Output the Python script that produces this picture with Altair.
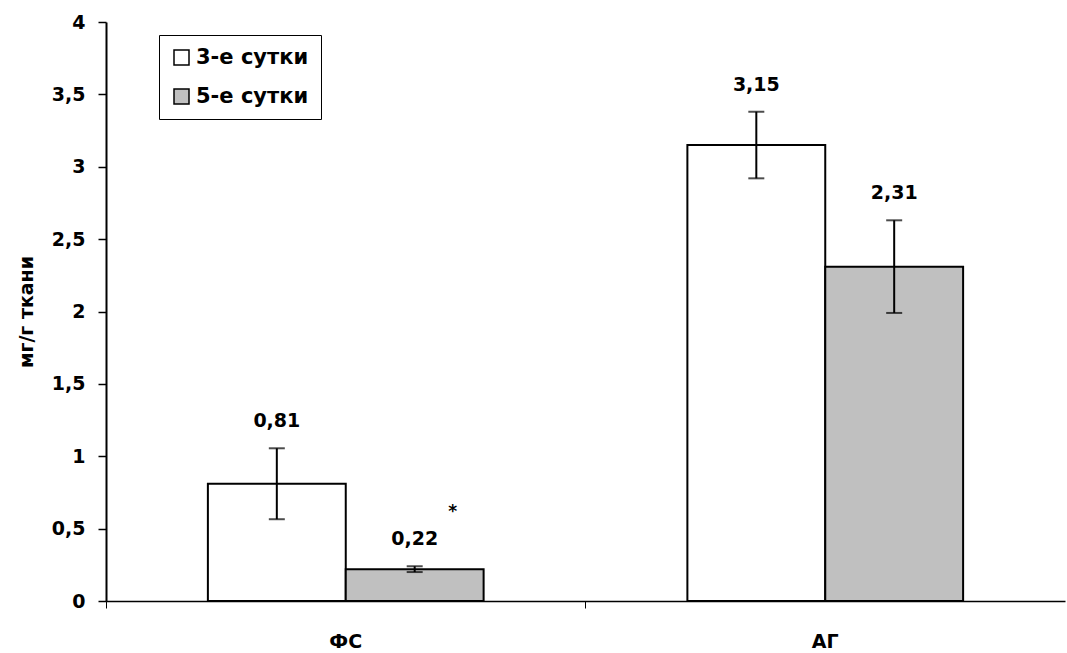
import altair as alt
import pandas as pd

groups = ["ФС", "ФС", "АГ", "АГ"]
series = ["3-е сутки", "5-е сутки", "3-е сутки", "5-е сутки"]
values = [0.81, 0.22, 3.15, 2.31]
errors = [0.245, 0.02, 0.23, 0.32]
marks = ["", "*", "", ""]
group_order = ["ФС", "АГ"]
series_order = ["3-е сутки", "5-е сутки"]
series_colors = ["#ffffff", "#c0c0c0"]
y_ticks = [0, 0.5, 1, 1.5, 2, 2.5, 3, 3.5, 4]

df = pd.DataFrame({
    "group": groups,
    "series": series,
    "value": values,
    "err": errors,
    "mark": marks,
})
df["lo"] = df["value"] - df["err"]
df["hi"] = df["value"] + df["err"]
df["label"] = df["value"].map(lambda v: f"{v:.2f}".replace(".", ","))

FONT = "DejaVu Sans"

x_enc = alt.X(
    "group:N",
    sort=group_order,
    scale=alt.Scale(paddingInner=0, paddingOuter=0),
    axis=alt.Axis(
        title=None, bandPosition=0, ticks=True, tickSize=7,
        tickColor="black", tickWidth=1, domainColor="black", domainWidth=1.5,
        labelAngle=0, labelFontSize=19, labelFont=FONT, labelFontWeight="bold",
        labelColor="black", labelPadding=24, grid=False,
    ),
)
xoff = alt.XOffset("series:N", sort=series_order,
                   scale=alt.Scale(paddingInner=0, paddingOuter=0.739))

y_scale = alt.Scale(domain=[0, 4], nice=False)

base = alt.Chart(df)

bars = base.mark_bar(stroke="black", strokeWidth=2).encode(
    x=x_enc,
    xOffset=xoff,
    y=alt.Y(
        "value:Q", scale=y_scale,
        axis=alt.Axis(
            title="мг/г ткани", values=y_ticks,
            labelExpr="replace(toString(datum.value), '.', ',')",
            grid=False, tickSize=8, tickColor="black", tickWidth=1.5,
            domainColor="black", domainWidth=2, labelFontSize=19,
            labelFont=FONT, labelFontWeight="bold", labelColor="black",
            labelPadding=13, titleFontSize=19, titleFont=FONT,
            titleFontWeight="bold", titleColor="black", titlePadding=15,
        ),
    ),
    fill=alt.Fill(
        "series:N",
        scale=alt.Scale(domain=series_order, range=series_colors),
        legend=alt.Legend(
            title=None, orient="none", legendX=53, legendY=13,
            symbolType="square", symbolSize=225, symbolStrokeColor="black",
            symbolStrokeWidth=1.5, labelFontSize=21, labelFont=FONT,
            labelFontWeight="bold", labelColor="black", padding=12,
            rowPadding=17, strokeColor="black", fillColor="white",
            labelOffset=4,
        ),
    ),
)

rules = base.mark_rule(color="black", strokeWidth=2).encode(
    x=alt.X("group:N", sort=group_order), xOffset=xoff,
    y=alt.Y("lo:Q", scale=y_scale), y2="hi:Q",
)
caps_lo = base.mark_tick(color="black", thickness=2, size=16, orient="horizontal").encode(
    x=alt.X("group:N", sort=group_order), xOffset=xoff,
    y=alt.Y("lo:Q", scale=y_scale),
)
caps_hi = base.mark_tick(color="black", thickness=2, size=16, orient="horizontal").encode(
    x=alt.X("group:N", sort=group_order), xOffset=xoff,
    y=alt.Y("hi:Q", scale=y_scale),
)
labels = base.mark_text(
    font=FONT, fontWeight="bold", fontSize=19, color="black",
    baseline="middle", dy=-27,
).encode(
    x=alt.X("group:N", sort=group_order), xOffset=xoff,
    y=alt.Y("hi:Q", scale=y_scale), text="label:N",
)
stars = base.mark_text(
    font=FONT, fontWeight="bold", fontSize=17, color="black",
    baseline="middle", dx=38, dy=-54,
).encode(
    x=alt.X("group:N", sort=group_order), xOffset=xoff,
    y=alt.Y("hi:Q", scale=y_scale), text="mark:N",
)

chart = alt.layer(bars, rules, caps_lo, caps_hi, labels, stars).properties(
    width=959, height=579,
    autosize=alt.AutoSizeParams(type="none"),
    padding={"left": 106, "top": 22, "right": 2, "bottom": 52},
    background="white",
).configure_view(stroke=None)

chart.save("out.html", embed_options={"renderer": "svg", "actions": False})
